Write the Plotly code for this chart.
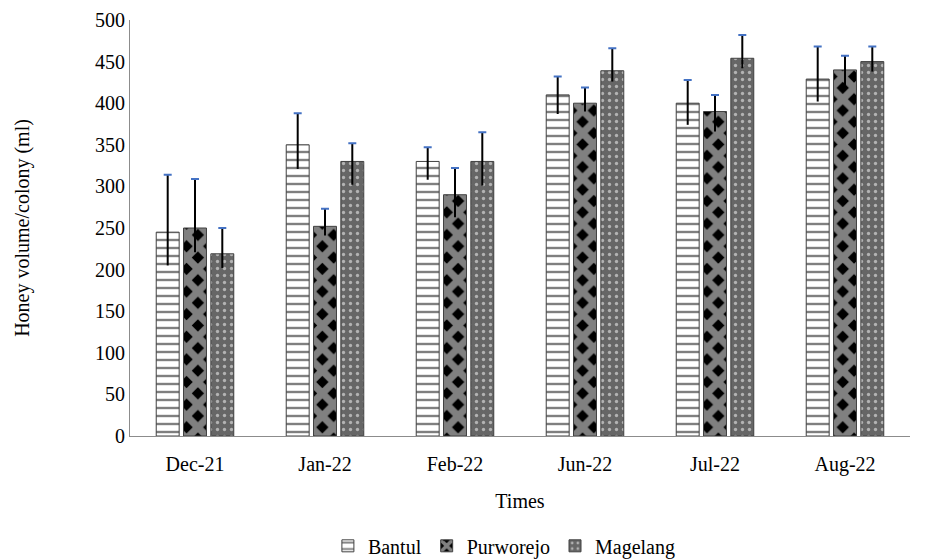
import plotly.graph_objects as go

# Monthly honey volume per colony at three sites
categories = ["Dec-21", "Jan-22", "Feb-22", "Jun-22", "Jul-22", "Aug-22"]

bantul = [245, 350, 330, 410, 400, 429]
bantul_hi = [314, 388, 347, 432, 428, 468]
bantul_lo = [205, 321, 308, 387, 374, 402]

purworejo = [250, 252, 290, 400, 390, 440]
purworejo_hi = [309, 273, 322, 419, 410, 457]
purworejo_lo = [221, 241, 263, 390, 366, 418]

magelang = [219, 330, 330, 439, 454, 450]
magelang_hi = [250, 352, 365, 466, 482, 468]
magelang_lo = [202, 302, 301, 426, 442, 438]

FONT = "Liberation Serif, Times New Roman, serif"
FSIZE = 20
CAP_BLUE = "#4472C4"

series = [
    ("Bantul", bantul, bantul_hi, bantul_lo,
     dict(shape="-", fgcolor="black", bgcolor="white", size=8, solidity=0.3)),
    ("Purworejo", purworejo, purworejo_hi, purworejo_lo,
     dict(shape="x", fgcolor="white", bgcolor="black", size=16, solidity=0.7)),
    ("Magelang", magelang, magelang_hi, magelang_lo,
     dict(shape=".", fgcolor="white", bgcolor="#666666", size=7, solidity=0.18)),
]

fig = go.Figure()

for i, (name, vals, hi, lo, pattern) in enumerate(series):
    grp = str(i)
    # the bars with black whiskers
    fig.add_trace(go.Bar(
        name=name, x=categories, y=vals, offsetgroup=grp,
        marker=dict(color=pattern["bgcolor"], pattern=pattern,
                    line=dict(color="#404040", width=1)),
        error_y=dict(type="data", symmetric=False,
                     array=[h - v for h, v in zip(hi, vals)],
                     arrayminus=[v - l for v, l in zip(vals, lo)],
                     color="black", thickness=2, width=0),
    ))
    # blue caps sitting on the top of each whisker
    fig.add_trace(go.Bar(
        x=categories, y=hi, offsetgroup=grp, showlegend=False, hoverinfo="skip",
        marker=dict(color="rgba(0,0,0,0)", line=dict(width=0)),
        error_y=dict(type="data", array=[0] * len(hi), color=CAP_BLUE,
                     thickness=2, width=4),
    ))

fig.update_layout(
    width=928, height=559,
    margin=dict(l=130, r=18, t=20, b=123, autoexpand=False),
    paper_bgcolor="white", plot_bgcolor="white",
    barmode="group", bargap=0.37, bargroupgap=0.16,
    font=dict(family=FONT, size=FSIZE, color="black"),
    showlegend=True,
    legend=dict(orientation="h", x=0.48, xanchor="center", y=-0.264, yanchor="middle",
                font=dict(family=FONT, size=FSIZE), itemwidth=30,
                tracegroupgap=0),
)

fig.update_xaxes(
    showline=True, linecolor="#8c8c8c", linewidth=1, showgrid=False,
    ticks="", ticklabelstandoff=10, tickfont=dict(family=FONT, size=FSIZE),
    title=dict(text="Times", font=dict(family=FONT, size=FSIZE), standoff=18),
)
fig.update_yaxes(
    range=[0, 500], dtick=50, showline=True, linecolor="#8c8c8c", linewidth=1,
    showgrid=False, zeroline=False, ticks="", ticklabelstandoff=0,
    tickfont=dict(family=FONT, size=FSIZE),
    title=dict(text="Honey volume/colony (ml)", font=dict(family=FONT, size=FSIZE),
               standoff=60),
)

fig.write_html("out.html")
